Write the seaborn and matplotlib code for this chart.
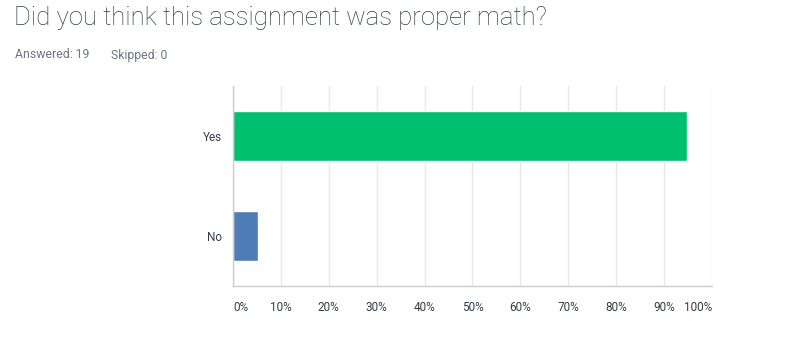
import matplotlib

matplotlib.use("Agg")
import matplotlib.pyplot as plt
import pandas as pd
import seaborn as sns
from matplotlib.ticker import FuncFormatter

# Survey data
answers = ["Yes", "No"]
percent = [94.74, 5.26]
bar_colors = ["#00BF6F", "#507CB6"]
x_ticks = [0, 10, 20, 30, 40, 50, 60, 70, 80, 90, 100]

title = "Did you think this assignment was proper math?"
answered_text = "Answered: 19"
skipped_text = "Skipped: 0"

sns.set_theme(style="white")
plt.rcParams["font.family"] = ["Roboto", "DejaVu Sans"]

df = pd.DataFrame({"answer": answers, "percent": percent})

fig = plt.figure(figsize=(8.12, 3.56), dpi=100)
ax = fig.add_axes([233 / 812, 70 / 356, 479 / 812, 200 / 356])

sns.barplot(
    data=df,
    x="percent",
    y="answer",
    hue="answer",
    palette=bar_colors,
    width=0.5,
    legend=False,
    saturation=1,
    ax=ax,
)

ax.set_xlim(0, 100)
ax.set_ylim(1.5, -0.5)
ax.set_xticks(x_ticks)
ax.xaxis.set_major_formatter(FuncFormatter(lambda v, _: f"{v:.0f}%"))
ax.set_xlabel("")
ax.set_ylabel("")
ax.grid(axis="x", color="#e8e8e8", linewidth=1)
ax.set_axisbelow(True)
ax.tick_params(axis="both", length=0, labelsize=8.5, labelcolor="#333e48")
ax.tick_params(axis="x", pad=11)
ax.tick_params(axis="y", pad=8)

labels = ax.get_xticklabels()
labels[0].set_ha("left")
labels[-1].set_ha("right")

for side in ["top", "right"]:
    ax.spines[side].set_visible(False)
for side in ["left", "bottom"]:
    ax.spines[side].set_color("#cccccc")
    ax.spines[side].set_linewidth(1)

fig.text(14 / 812, 1 - 25 / 356, title, fontsize=18.5, color="#333e48",
         fontweight="light", ha="left", va="baseline")
fig.text(15 / 812, 1 - 58.5 / 356, answered_text, fontsize=8.8, color="#6b787f",
         ha="left", va="baseline")
fig.text(111 / 812, 1 - 58.5 / 356, skipped_text, fontsize=8.8, color="#6b787f",
         ha="left", va="baseline")

fig.savefig("out.png", dpi=100)
plt.close(fig)
